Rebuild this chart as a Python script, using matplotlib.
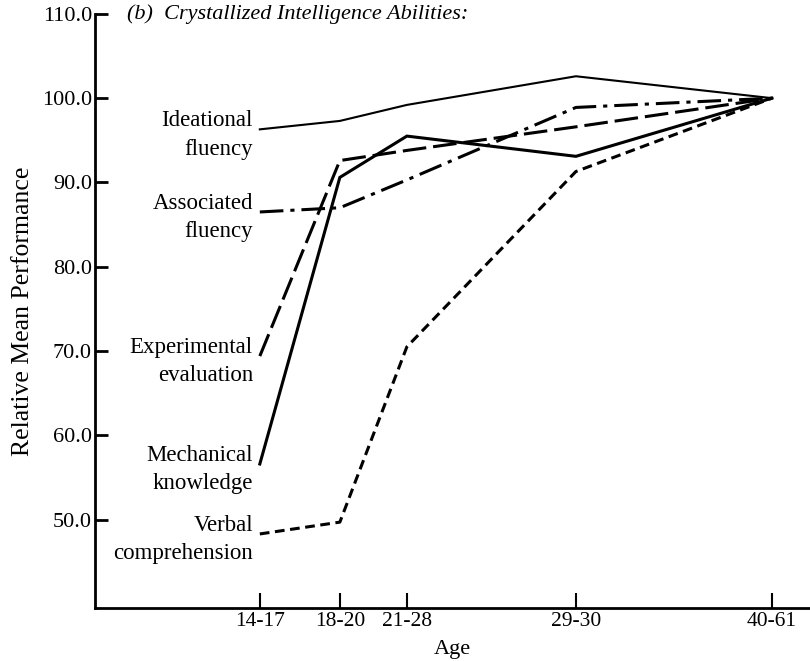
import matplotlib
matplotlib.use("Agg")
import matplotlib.pyplot as plt

plt.rcParams['font.family'] = ['Liberation Serif', 'DejaVu Serif']
plt.rcParams['lines.scale_dashes'] = False

# age groups and where they sit on the age axis
ages = ['14-17', '18-20', '21-28', '29-30', '40-61']
age_pos = [0, 8, 14.7, 31.6, 51.2]

# relative mean performance (40-61 group = 100)
ideational = [96.3, 97.3, 99.2, 102.6, 100.0]
associated = [86.5, 87.0, 90.3, 98.9, 100.0]
experimental = [69.4, 92.6, 93.8, 96.6, 100.0]
mechanical = [56.6, 90.6, 95.5, 93.1, 100.0]
verbal = [48.3, 49.7, 70.5, 91.3, 100.0]

yticks = [50, 60, 70, 80, 90, 100, 110]

fig = plt.figure(figsize=(8.1, 6.61), dpi=100)
ax = fig.add_axes([0.117, 0.080, 0.883, 0.899])

series = [
    ('Ideational\nfluency', ideational, dict(lw=1.5, ls='-')),
    ('Associated\nfluency', associated, dict(lw=2.2, dashes=(17, 5, 3, 5))),
    ('Experimental\nevaluation', experimental, dict(lw=2.2, dashes=(17, 5))),
    ('Mechanical\nknowledge', mechanical, dict(lw=2.2, ls='-')),
    ('Verbal\ncomprehension', verbal, dict(lw=2.2, dashes=(7, 4))),
]

for name, vals, style in series:
    ax.plot(age_pos, vals, color='black', solid_joinstyle='miter', **style)
    ax.annotate(name, xy=(age_pos[0], vals[0]), xytext=(-5, -4),
                textcoords='offset points', ha='right', va='center',
                fontsize=16.5, linespacing=1.45)

ax.set_xlim(-16.5, 55)
ax.set_ylim(39.5, 110)

ax.set_yticks(yticks)
ax.set_yticklabels([f'{v:.1f}' for v in yticks], fontsize=16)
ax.set_xticks(age_pos)
ax.set_xticklabels(ages, fontsize=15.5)

ax.tick_params(axis='y', direction='in', length=9, width=2, pad=2)
ax.tick_params(axis='x', direction='in', length=11, width=1.5, pad=3)

for side in ['top', 'right']:
    ax.spines[side].set_visible(False)
for side in ['left', 'bottom']:
    ax.spines[side].set_linewidth(2)

ax.set_ylabel('Relative Mean Performance', fontsize=18.5, labelpad=6)
ax.set_xlabel('Age', fontsize=16, labelpad=6)

ax.text(0.045, 1.0, '(b)  Crystallized Intelligence Abilities:',
        transform=ax.transAxes, style='italic', fontsize=16,
        ha='left', va='center')

fig.savefig('out.png', dpi=100)
